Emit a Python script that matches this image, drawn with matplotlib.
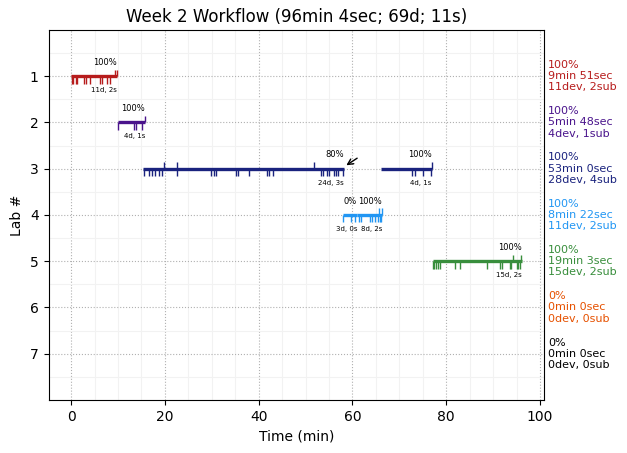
import matplotlib
matplotlib.use("Agg")
import matplotlib.pyplot as plt
from matplotlib.ticker import MultipleLocator

# ---- data ----
lab_ids = [1, 2, 3, 4, 5, 6, 7]
lab_colors = ['#b71c1c', '#4a148c', '#1a237e', '#2196f3', '#388e3c', '#e65100', '#000000']
lab_pct = ['100%', '100%', '100%', '100%', '100%', '0%', '0%']
lab_time = ['9min 51sec', '5min 48sec', '53min 0sec', '8min 22sec', '19min 3sec', '0min 0sec', '0min 0sec']
lab_dev = [11, 4, 28, 11, 15, 0, 0]
lab_sub = [2, 1, 4, 2, 2, 0, 0]

seg_lab = [1, 2, 3, 3, 4, 4, 5]
seg_start = [0.0, 10.0, 15.3, 66.0, 57.9, 61.0, 77.1]
seg_end = [9.85, 15.8, 58.1, 76.9, 61.0, 66.3, 96.1]
seg_pct = ['100%', '100%', '80%', '100%', '0%', '100%', '100%']
seg_devs = [11, 4, 24, 4, 3, 8, 15]
seg_subs = [2, 1, 3, 1, 0, 2, 2]

dev_lab1 = [0.1, 0.4, 1.1, 1.3, 2.8, 3.2, 4.0, 6.1, 6.5, 7.7, 8.3]
sub_lab1 = [9.3, 9.7]
dev_lab2 = [10.1, 13.4, 13.8, 15.2]
sub_lab2 = [15.7]
dev_lab3 = [15.5, 16.6, 17.2, 17.8, 18.8, 19.3, 22.6, 29.9, 30.4, 31.0, 35.1, 35.6,
            37.9, 41.7, 42.3, 43.0, 53.2, 53.8, 54.6, 55.0, 56.0, 56.5, 57.0, 57.9,
            72.6, 73.3, 75.0, 76.7]
sub_lab3 = [19.8, 22.6, 51.7, 76.9]
dev_lab4 = [58.0, 59.8, 60.6, 61.3, 61.8, 63.8, 64.2, 64.9, 65.4, 65.8, 66.1]
sub_lab4 = [65.7, 66.2]
dev_lab5 = [77.2, 77.5, 77.9, 78.3, 78.7, 81.9, 83.0, 88.8, 91.5, 92.0, 93.5, 93.9,
            95.0, 95.3, 95.7]
sub_lab5 = [94.3, 96.0]

dev_times = {1: dev_lab1, 2: dev_lab2, 3: dev_lab3, 4: dev_lab4, 5: dev_lab5}
sub_times = {1: sub_lab1, 2: sub_lab2, 3: sub_lab3, 4: sub_lab4, 5: sub_lab5}

total_time = 96.07
title = 'Week 2 Workflow (96min 4sec; 69d; 11s)'

# ---- plot ----
fig = plt.figure(figsize=(6.27, 4.53), dpi=100)
ax = fig.add_axes([0.0774, 0.117, 0.7904, 0.817])

for lab, s, e, p, d, sb in zip(seg_lab, seg_start, seg_end, seg_pct, seg_devs, seg_subs):
    c = lab_colors[lab - 1]
    ax.plot([s, e], [lab, lab], color=c, lw=2.4, solid_capstyle='butt', zorder=3)
    ax.text(e, lab - 0.2, p, ha='right', va='bottom', fontsize=6, zorder=4)
    ax.text(e, lab + 0.3, f'{d}d, {sb}s', ha='right', va='center', fontsize=5, zorder=4)

for lab, times in dev_times.items():
    ax.vlines(times, lab, lab + 0.16, color=lab_colors[lab - 1], lw=1, zorder=3)
for lab, times in sub_times.items():
    ax.vlines(times, lab - 0.14, lab, color=lab_colors[lab - 1], lw=1, zorder=3)

ax.annotate('', xy=(58.2, 2.96), xytext=(61.5, 2.74),
            arrowprops=dict(arrowstyle='->', color='black', lw=1))

for lab, c, p, t, d, s in zip(lab_ids, lab_colors, lab_pct, lab_time, lab_dev, lab_sub):
    ax.text(1.008, lab, f'{p}\n{t}\n{d}dev, {s}sub', color=c, fontsize=8,
            ha='left', va='center', transform=ax.get_yaxis_transform(), linespacing=1.15)

ax.set_xlim(-0.05 * total_time, 1.05 * total_time)
ax.set_ylim(8, 0)
ax.set_yticks(lab_ids)
ax.xaxis.set_major_locator(MultipleLocator(20))
ax.xaxis.set_minor_locator(MultipleLocator(5))
ax.yaxis.set_minor_locator(MultipleLocator(0.5))
ax.tick_params(which='minor', length=0)
ax.grid(which='major', linestyle=':', color='#b0b0b0', lw=0.8)
ax.grid(which='minor', linestyle='-', color='#f2f2f2', lw=0.8)
ax.set_axisbelow(True)
ax.set_xlabel('Time (min)')
ax.set_ylabel('Lab #')
ax.set_title(title)

fig.savefig('out.png', dpi=100)
